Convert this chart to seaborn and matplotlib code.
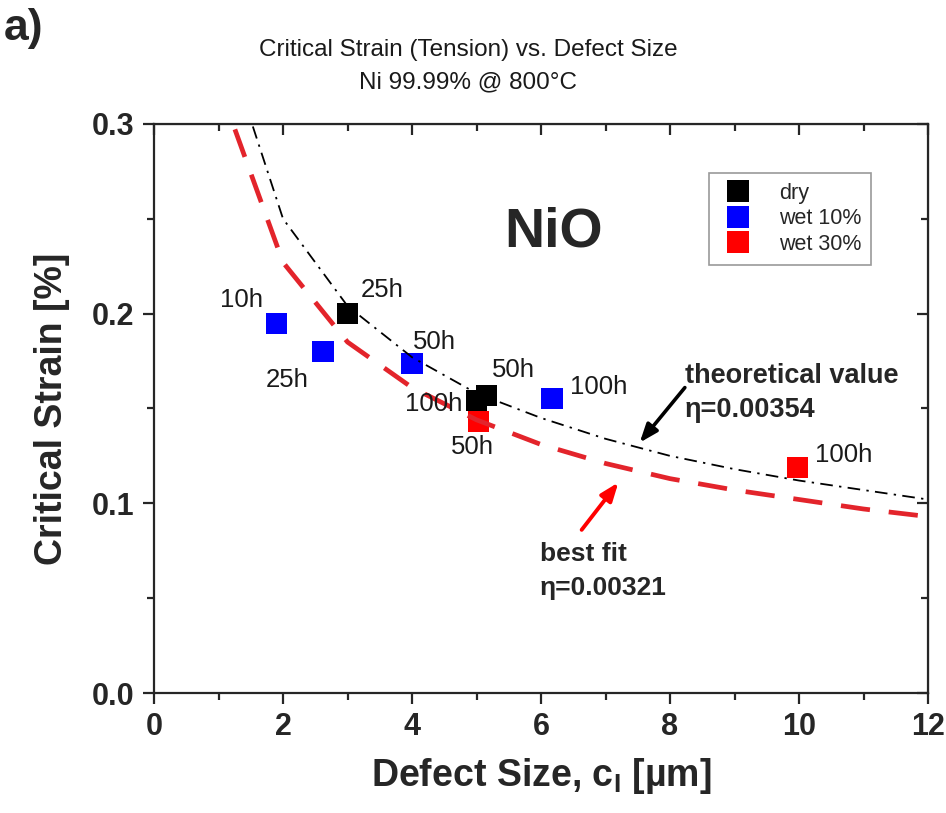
import matplotlib
matplotlib.use("Agg")
import matplotlib.pyplot as plt
from matplotlib.ticker import MultipleLocator
from matplotlib.lines import Line2D
import numpy as np
import pandas as pd
import seaborn as sns

# ---- data -------------------------------------------------------------
# measured critical strain [%] vs. defect size c_I [um]
dry_c = [3.0, 5.15, 5.0]
dry_strain = [0.200, 0.157, 0.154]
dry_labels = ["25h", "50h", "100h"]

wet10_c = [1.9, 2.62, 4.0, 6.17]
wet10_strain = [0.195, 0.180, 0.1735, 0.155]
wet10_labels = ["10h", "25h", "50h", "100h"]

wet30_c = [5.03, 9.98]
wet30_strain = [0.143, 0.119]
wet30_labels = ["50h", "100h"]

# model curves, strain = eta / sqrt(c), evaluated at integer defect sizes
curve_c = [1, 2, 3, 4, 5, 6, 7, 8, 9, 10, 11, 12]
theory_strain = [0.354, 0.250, 0.204, 0.177, 0.158, 0.145, 0.134, 0.125,
                 0.118, 0.112, 0.107, 0.102]
fit_strain = [0.321, 0.227, 0.185, 0.161, 0.144, 0.131, 0.121, 0.113,
              0.107, 0.102, 0.097, 0.093]

conditions = ["dry", "wet 10%", "wet 30%"]
colors = {"dry": "#000000", "wet 10%": "#0000ff", "wet 30%": "#ff0000"}

x_ticks = [0, 2, 4, 6, 8, 10, 12]
y_ticks = [0.0, 0.1, 0.2, 0.3]

# ---- frame ------------------------------------------------------------
points = pd.concat([
    pd.DataFrame({"c": wet30_c, "strain": wet30_strain, "cond": "wet 30%", "lab": wet30_labels}),
    pd.DataFrame({"c": wet10_c, "strain": wet10_strain, "cond": "wet 10%", "lab": wet10_labels}),
    pd.DataFrame({"c": dry_c, "strain": dry_strain, "cond": "dry", "lab": dry_labels}),
], ignore_index=True)
curves = pd.DataFrame({"c": curve_c, "theory": theory_strain, "fit": fit_strain})

sns.set_style("ticks")
plt.rcParams["font.family"] = ["Liberation Sans", "DejaVu Sans"]
plt.rcParams["mathtext.fontset"] = "custom"
plt.rcParams["mathtext.rm"] = "Liberation Sans"
plt.rcParams["mathtext.bf"] = "Liberation Sans:bold"

fig = plt.figure(figsize=(9.46, 8.13), dpi=100)
ax = fig.add_axes([0.1628, 0.1476, 0.8182, 0.7000])

sns.scatterplot(data=points, x="c", y="strain", hue="cond", hue_order=conditions,
                palette=colors, marker="s", s=230, linewidth=0, ax=ax,
                legend=False, zorder=2)

sns.lineplot(data=curves, x="c", y="theory", color="black", lw=1.3, ax=ax,
             zorder=4)
ax.lines[-1].set_dashes((7, 3.5, 1.3, 3.5))
sns.lineplot(data=curves, x="c", y="fit", color="#e3242b", lw=3.4, ax=ax,
             zorder=3)
ax.lines[-1].set_dashes((6.2, 4.0))

# point labels: (offset in pixels, horizontal alignment)
label_layout = {
    ("wet 10%", "10h"): ((-14, 23), "right"),
    ("wet 10%", "25h"): ((-36, -28), "center"),
    ("dry", "25h"): ((13, 24), "left"),
    ("wet 10%", "50h"): ((1, 22), "left"),
    ("dry", "50h"): ((6, 25), "left"),
    ("dry", "100h"): ((-14, -3), "right"),
    ("wet 30%", "50h"): ((-6, -25), "center"),
    ("wet 10%", "100h"): ((18, 12), "left"),
    ("wet 30%", "100h"): ((17, 12), "left"),
}
for _, row in points.iterrows():
    off, ha = label_layout[(row["cond"], row["lab"])]
    ax.annotate(row["lab"], (row["c"], row["strain"]), xytext=off,
                textcoords="offset pixels", ha=ha, va="center",
                fontsize=18.5, color="#1a1a1a", zorder=5)

ax.text(6.2, 0.243, "NiO", fontsize=40, fontweight="bold", ha="center",
        va="center")

# arrows to the curves
ax.annotate("", xy=(7.53, 0.132), xytext=(8.23, 0.161),
            arrowprops=dict(arrowstyle="-|>,head_length=1.1,head_width=0.42",
                            color="black", lw=2.6, shrinkA=0, shrinkB=0))
ax.text(8.23, 0.167, "theoretical value", fontsize=19.5, fontweight="bold",
        ha="left", va="center")
ax.text(8.23, 0.149, "η=0.00354", fontsize=19.5, fontweight="bold",
        ha="left", va="center")

ax.annotate("", xy=(7.2, 0.111), xytext=(6.63, 0.086),
            arrowprops=dict(arrowstyle="-|>,head_length=1.1,head_width=0.42",
                            color="#ff0000", lw=2.8, shrinkA=0, shrinkB=0))
ax.text(5.98, 0.0735, "best fit", fontsize=19, fontweight="bold",
        ha="left", va="center")
ax.text(5.98, 0.0555, "η=0.00321", fontsize=19, fontweight="bold",
        ha="left", va="center")

# legend
handles = [Line2D([], [], marker="s", ls="none", markersize=16,
                  markerfacecolor=colors[k], markeredgewidth=0) for k in conditions]
leg = ax.legend(handles, conditions, loc="upper left",
                bbox_to_anchor=(0.717, 0.914), borderaxespad=0, fontsize=15.5,
                frameon=True, fancybox=False, edgecolor="#808080",
                handletextpad=1.0, labelspacing=0.22, borderpad=0.45,
                handlelength=1.8)
leg.get_frame().set_linewidth(1.2)

# axes, ticks
ax.set_xlim(0, 12)
ax.set_ylim(0, 0.3)
ax.set_xticks(x_ticks)
ax.set_yticks(y_ticks)
ax.set_xticklabels([str(v) for v in x_ticks])
ax.set_yticklabels([f"{v:.1f}" for v in y_ticks])
ax.xaxis.set_minor_locator(MultipleLocator(1))
ax.yaxis.set_minor_locator(MultipleLocator(0.05))
for sp in ax.spines.values():
    sp.set_linewidth(1.6)
    sp.set_visible(True)
ax.tick_params(which="major", direction="out", length=8, width=1.6,
               labelsize=22, pad=6)
ax.tick_params(which="minor", direction="out", length=5, width=1.6)
for lbl in ax.get_xticklabels() + ax.get_yticklabels():
    lbl.set_fontweight("bold")

top = ax.secondary_xaxis("top")
top.set_xticks(x_ticks)
top.xaxis.set_minor_locator(MultipleLocator(1))
top.tick_params(which="both", direction="in", labeltop=False, width=1.6)
top.tick_params(which="major", length=8)
top.tick_params(which="minor", length=5)
right = ax.secondary_yaxis("right")
right.set_yticks(y_ticks)
right.yaxis.set_minor_locator(MultipleLocator(0.05))
right.tick_params(which="both", direction="in", labelright=False, width=1.6)
right.tick_params(which="major", length=8)
right.tick_params(which="minor", length=5)

ax.set_xlabel(r"Defect Size, c$_{\mathregular{I}}$ [µm]", fontsize=27,
              fontweight="bold", labelpad=10)
ax.set_ylabel("Critical Strain [%]", fontsize=27, fontweight="bold",
              labelpad=16)

fig.text(0.495, 0.919, "Critical Strain (Tension) vs. Defect Size\nNi 99.99% @ 800°C",
         ha="center", va="center", fontsize=17.5, linespacing=1.6,
         color="#1a1a1a")
fig.text(0.004, 0.99, "a)", ha="left", va="top", fontsize=32,
         fontweight="bold")

fig.savefig("out.png", dpi=100)
